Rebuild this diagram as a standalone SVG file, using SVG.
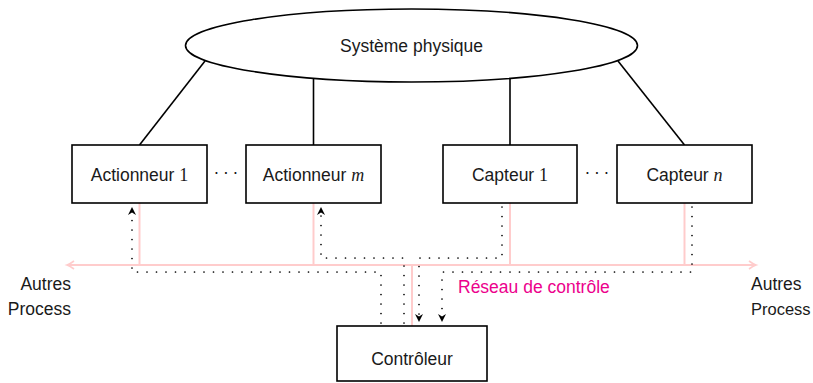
<svg xmlns="http://www.w3.org/2000/svg" width="813" height="383" viewBox="0 0 813 383">
<style>
.box{fill:#fff;stroke:#000;stroke-width:1.6}
.lbl{font-family:"Liberation Sans",Arial,sans-serif;font-size:17.5px;fill:#1a1a1a}
.c{text-anchor:middle}
.math{font-family:"Liberation Serif","Times New Roman",serif;font-size:18px}
.it{font-style:italic}
.link{stroke:#000;stroke-width:1.6;fill:none}
.bus{stroke:#ffcccc;stroke-width:2;fill:none}
.dot{stroke:#000;stroke-width:1.7;fill:none;stroke-dasharray:0 9.5;stroke-linecap:round}
</style>
<defs>
<marker id="ah" markerUnits="userSpaceOnUse" markerWidth="12" markerHeight="12" refX="8" refY="4" orient="auto" overflow="visible">
<path d="M8,4 L0,0 L2.5,4 L0,8 Z" fill="#000"/>
</marker>
<marker id="pah" markerUnits="userSpaceOnUse" markerWidth="12" markerHeight="12" refX="7" refY="4" orient="auto" overflow="visible">
<path d="M0,0 Q4,3 7,4 Q4,5 0,8" fill="none" stroke="#ffcccc" stroke-width="1.6"/>
</marker>
</defs>

<g id="connectors">
<line class="link" x1="205" y1="61" x2="139.5" y2="145"/>
<line class="link" x1="313.5" y1="78" x2="313.5" y2="145"/>
<line class="link" x1="510" y1="78" x2="510" y2="145"/>
<line class="link" x1="618" y1="61" x2="684.5" y2="145"/>
<line class="bus" x1="412" y1="265" x2="67" y2="265" marker-end="url(#pah)"/>
<line class="bus" x1="412" y1="265" x2="756" y2="265" marker-end="url(#pah)"/>
<line class="bus" x1="139.5" y1="203" x2="139.5" y2="265"/>
<line class="bus" x1="313.5" y1="203" x2="313.5" y2="265"/>
<line class="bus" x1="510" y1="203" x2="510" y2="265"/>
<line class="bus" x1="684.5" y1="203" x2="684.5" y2="265"/>
<line class="bus" x1="412" y1="265" x2="412" y2="326"/>
<path class="dot" d="M381,323 L381,272 L132,272 L132,207" marker-end="url(#ah)"/>
<path class="dot" d="M404,323 L404,258 L321,258 L321,207" marker-end="url(#ah)"/>
<path class="dot" d="M502,207 L502,258 L419,258 L419,322" marker-end="url(#ah)"/>
<path class="dot" d="M692,207 L692,272 L442,272 L442,322" marker-end="url(#ah)"/>
</g>

<g id="systeme">
<ellipse cx="411.5" cy="45.5" rx="226" ry="36.5" fill="#fff" stroke="#000" stroke-width="1.6"/>
<text class="lbl c" x="411.5" y="51.5">Système physique</text>
</g>

<g id="actionneur1">
<rect class="box" x="72" y="145" width="135" height="58"/>
<text class="lbl c" x="139.5" y="180.5">Actionneur <tspan class="math">1</tspan></text>
</g>
<g id="actionneurm">
<rect class="box" x="246" y="145" width="135" height="58"/>
<text class="lbl c" x="313.5" y="180.5">Actionneur <tspan class="math it">m</tspan></text>
</g>
<g id="capteur1">
<rect class="box" x="443" y="145" width="134" height="58"/>
<text class="lbl c" x="510" y="180.5">Capteur <tspan class="math">1</tspan></text>
</g>
<g id="capteurn">
<rect class="box" x="617" y="145" width="135" height="58"/>
<text class="lbl c" x="684.5" y="180.5">Capteur <tspan class="math it">n</tspan></text>
</g>
<g id="dots1">
<text class="lbl c" x="216.5 226 235.5" y="178">···</text>
</g>
<g id="dots2">
<text class="lbl c" x="587.5 597 606.5" y="178">···</text>
</g>
<g id="controleur">
<rect class="box" x="337" y="326" width="150" height="55"/>
<text class="lbl c" x="412" y="365">Contrôleur</text>
</g>
<g id="reseau">
<text class="lbl" x="458" y="292.5" style="fill:#ec008c">Réseau de contrôle</text>
</g>
<g id="autres-gauche">
<text class="lbl" x="71" y="290" text-anchor="end">Autres</text>
<text class="lbl" x="71" y="315" text-anchor="end">Process</text>
</g>
<g id="autres-droite">
<text class="lbl" x="751" y="290">Autres</text>
<text class="lbl" x="751" y="315" style="font-size:16.5px">Process</text>
</g>
</svg>
